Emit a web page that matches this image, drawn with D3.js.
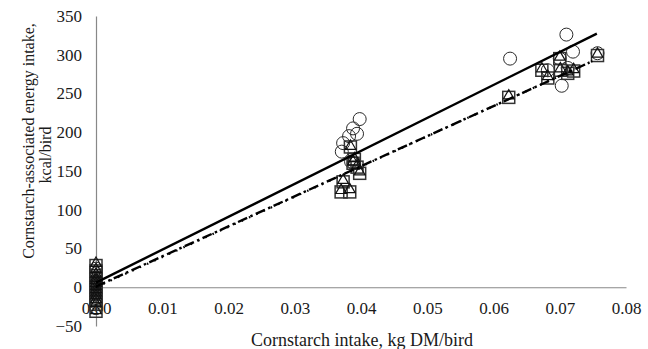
<!DOCTYPE html>
<html>
<head>
<meta charset="utf-8">
<script src="https://cdn.jsdelivr.net/npm/d3@7"></script>
<style>
  body { margin: 0; background: #fff; }
  svg { display: block; font-family: "Liberation Serif", "DejaVu Serif", serif; }
</style>
</head>
<body>
<div id="chart"></div>
<script>
// tick values
const xTicks = [0, 0.01, 0.02, 0.03, 0.04, 0.05, 0.06, 0.07, 0.08];
const yTicks = [-50, 0, 50, 100, 150, 200, 250, 300, 350];

// circle series
const circleX = [0, 0, 0, 0, 0, 0, 0, 0, 0, 0, 0, 0,
  0.0371, 0.0373, 0.0382, 0.0385, 0.0388, 0.0389, 0.0394, 0.0398,
  0.0625, 0.0682, 0.0700, 0.0703, 0.0710, 0.0712, 0.0720, 0.0757];
const circleY = [24, 18, 12, 7, 4, 2, -3, -6, -8, -14, -20, -27,
  175, 186, 195, 162, 205, 160, 198, 217,
  295, 280, 295, 260, 326, 283, 304, 302];

// square and triangle series (same birds)
const squareX = [0, 0, 0, 0, 0, 0, 0, 0, 0, 0, 0, 0, 0,
  0.0370, 0.0373, 0.0383, 0.0384, 0.0388, 0.0390, 0.0394, 0.0398,
  0.0623, 0.0673, 0.0682, 0.0700, 0.0701, 0.0712, 0.0721, 0.0757];
const squareY = [28, 21, 15, 11, 7, 4, 0, -4, -9, -12, -17, -22, -31,
  123, 136, 123, 181, 160, 165, 155, 147,
  245, 280, 270, 295, 280, 276, 279, 299];
const triangleY = [31, 23, 17, 12, 9, 5, 1, -3, -7, -11, -16, -21, -30,
  125, 138, 126, 182, 162, 166, 157, 149,
  247, 282, 272, 297, 282, 278, 281, 301];

// fitted lines: [intercept, slope, xMax]
const fitSolid = [6, 4250, 0.0756];
const fitDashDot = [1, 3880, 0.0745];
const fitDotted = [0, 3895, 0.0757];

const width = 648, height = 349;
const svg = d3.select('#chart').append('svg')
  .attr('width', width)
  .attr('height', height);

const x = d3.scaleLinear().domain([0, 0.08]).range([96, 626]);
const y = d3.scaleLinear().domain([-50, 350]).range([326, 16]);

const axisColor = '#888';
const textColor = '#1a1a1a';

// y axis
const yAxis = svg.append('g')
  .attr('transform', `translate(${x(0)},0)`)
  .call(d3.axisLeft(y).tickValues(yTicks).tickSize(0).tickPadding(14).tickFormat(d3.format('d')));
yAxis.select('.domain').attr('stroke', axisColor).attr('stroke-width', 1.2);
yAxis.selectAll('text').attr('font-size', 17).attr('fill', textColor)
  .attr('font-family', '"Liberation Serif", serif');

// x axis
const xAxis = svg.append('g')
  .attr('transform', `translate(0,${y(0)})`)
  .call(d3.axisBottom(x).tickValues(xTicks).tickSize(0).tickPadding(15).tickFormat(d3.format('.2f')));
xAxis.select('.domain').attr('stroke', axisColor).attr('stroke-width', 1.2);
xAxis.selectAll('text').attr('font-size', 17).attr('fill', textColor)
  .attr('font-family', '"Liberation Serif", serif');

// markers
const markers = svg.append('g');
markers.selectAll('circle.c')
  .data(circleX.map((d, i) => [d, circleY[i]]))
  .enter().append('circle')
  .attr('class', 'c')
  .attr('cx', d => x(d[0]))
  .attr('cy', d => y(d[1]))
  .attr('r', 6.5)
  .attr('fill', 'none')
  .attr('stroke', '#2a2a2a')
  .attr('stroke-width', 1);

markers.selectAll('rect.s')
  .data(squareX.map((d, i) => [d, squareY[i]]))
  .enter().append('rect')
  .attr('class', 's')
  .attr('x', d => x(d[0]) - 6)
  .attr('y', d => y(d[1]) - 6)
  .attr('width', 12)
  .attr('height', 12)
  .attr('fill', 'none')
  .attr('stroke', '#333')
  .attr('stroke-width', 1.5);

const tri = d3.symbol().type(d3.symbolTriangle).size(50);
markers.selectAll('path.t')
  .data(squareX.map((d, i) => [d, triangleY[i]]))
  .enter().append('path')
  .attr('class', 't')
  .attr('d', tri)
  .attr('transform', d => `translate(${x(d[0])},${y(d[1])})`)
  .attr('fill', 'none')
  .attr('stroke', '#111')
  .attr('stroke-width', 1.2);

// trend lines
function fitLine(f, dash, lineWidth, cap) {
  const pts = [0, f[2]].map(v => [v, f[0] + f[1] * v]);
  svg.append('path')
    .datum(pts)
    .attr('d', d3.line().x(d => x(d[0])).y(d => y(d[1])))
    .attr('fill', 'none')
    .attr('stroke', '#000')
    .attr('stroke-width', lineWidth)
    .attr('stroke-linecap', cap)
    .attr('stroke-dasharray', dash);
}
fitLine(fitSolid, null, 2.4, 'butt');
fitLine(fitDotted, '1.5,6.5', 2.2, 'butt');
fitLine(fitDashDot, '10,3.5,2.5,3.5', 2.4, 'butt');

// axis titles
svg.append('text')
  .attr('x', 362)
  .attr('y', 346)
  .attr('text-anchor', 'middle')
  .attr('font-size', 18)
  .attr('fill', textColor)
  .text('Cornstarch intake, kg DM/bird');

svg.append('text')
  .attr('transform', 'translate(34,141) rotate(-90)')
  .attr('text-anchor', 'middle')
  .attr('font-size', 16)
  .attr('fill', textColor)
  .text('Cornstarch-associated energy intake,');
svg.append('text')
  .attr('transform', 'translate(51,155) rotate(-90)')
  .attr('text-anchor', 'middle')
  .attr('font-size', 16)
  .attr('fill', textColor)
  .text('kcal/bird');
</script>
</body>
</html>
